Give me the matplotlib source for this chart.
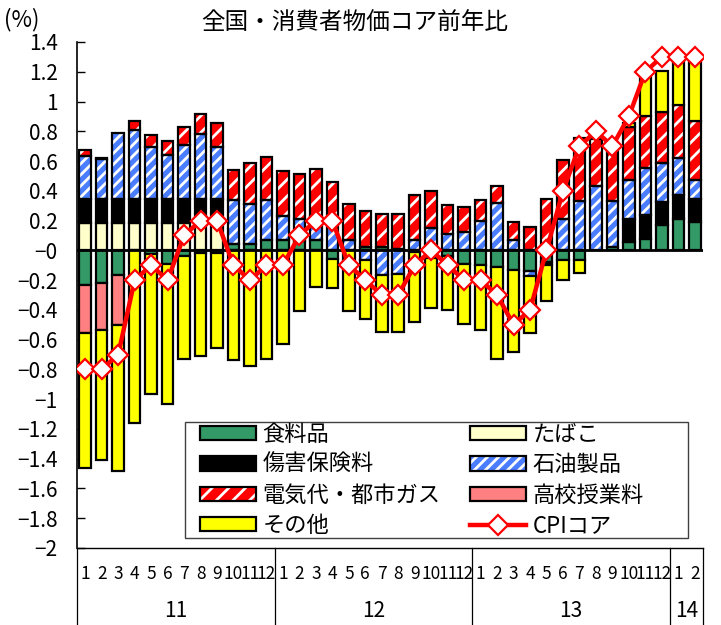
import numpy as np
import matplotlib
matplotlib.use('Agg')
import matplotlib.pyplot as plt
from matplotlib.patches import Patch, Rectangle
from matplotlib.lines import Line2D
from matplotlib.legend_handler import HandlerTuple
import matplotlib.transforms as mtransforms

plt.rcParams['font.family'] = ['Noto Sans CJK JP', 'DejaVu Sans']
plt.rcParams['hatch.linewidth'] = 2.0

# ---------------- data ----------------
months = [str(m) for m in range(1, 13)] * 3 + ['1', '2']
years = ['11', '12', '13', '14']
year_counts = [12, 12, 12, 2]

food = [-0.235, -0.217, -0.168, 0.0, -0.024, -0.09, -0.04, -0.02, -0.02, 0.045, 0.04, 0.067,
        0.067, 0.06, 0.067, -0.06, 0.0, 0.022, 0.022, 0.01, -0.01, -0.05, -0.04, -0.094,
        -0.1, -0.11, -0.134, -0.139, -0.078, -0.067, -0.067, 0.0, 0.02, 0.056, 0.078, 0.168,
        0.213, 0.19]
tobacco = [0.183] * 9 + [0.0] * 29
insurance = [0.163] * 9 + [0.0] * 3 + [0.0] * 12 + \
            [0.0, 0.0, 0.0, 0.0, -0.02, 0.0, 0.0, 0.0, 0.0, 0.157, 0.162, 0.156] + [0.156, 0.157]
oil = [0.288, 0.269, 0.444, 0.464, 0.348, 0.298, 0.359, 0.434, 0.348, 0.291, 0.273, 0.273,
       0.161, 0.15, 0.157, 0.213, 0.067, -0.063, -0.164, -0.161, 0.072, 0.152, 0.112, 0.123,
       0.197, 0.318, 0.067, -0.035, 0.0, 0.213, 0.331, 0.43, 0.31, 0.257, 0.315, 0.264,
       0.253, 0.123]
elec = [0.042, 0.005, 0.0, 0.058, 0.078, 0.09, 0.127, 0.133, 0.163, 0.201, 0.273, 0.286,
        0.304, 0.30, 0.324, 0.246, 0.246, 0.242, 0.224, 0.236, 0.302, 0.246, 0.194, 0.168,
        0.143, 0.114, 0.123, 0.157, 0.347, 0.396, 0.425, 0.319, 0.354, 0.358, 0.345, 0.34,
        0.358, 0.402]
tuition = [-0.322, -0.317, -0.335] + [0.0] * 35
other = [-0.908, -0.876, -0.977, -1.16, -0.939, -0.94, -0.693, -0.69, -0.634, -0.734, -0.78, -0.727,
         -0.631, -0.406, -0.246, -0.19, -0.407, -0.396, -0.384, -0.387, -0.474, -0.34, -0.363, -0.398,
         -0.437, -0.623, -0.551, -0.383, -0.24, -0.134, -0.085, 0.0, 0.0, 0.03, 0.268, 0.275,
         0.29, 0.398]
cpi = [-0.8, -0.8, -0.7, -0.2, -0.1, -0.2, 0.1, 0.2, 0.2, -0.1, -0.2, -0.1,
       -0.1, 0.1, 0.2, 0.2, -0.1, -0.2, -0.3, -0.3, -0.1, 0.0, -0.1, -0.2,
       -0.2, -0.3, -0.5, -0.4, 0.0, 0.4, 0.7, 0.8, 0.7, 0.9, 1.2, 1.3,
       1.3, 1.3]

names = ['食料品', 'たばこ', '傷害保険料', '石油製品', '電気代・都市ガス', '高校授業料', 'その他']
cpi_name = 'CPIコア'

# ---------------- styles ----------------
styles = {
    '食料品': dict(color='#339966', hatch=None),
    'たばこ': dict(color='#FFFFCC', hatch=None),
    '傷害保険料': dict(color='#000000', hatch=None),
    '石油製品': dict(color='#4A7DFF', hatch='///'),
    '電気代・都市ガス': dict(color='#FF0000', hatch='//'),
    '高校授業料': dict(color='#FF8080', hatch=None),
    'その他': dict(color='#FFFF00', hatch=None),
}

W, H = 721, 625
fig = plt.figure(figsize=(W / 100, H / 100), dpi=100)
L, R, T, B = 77, 703, 42, 548
ax = fig.add_axes([L / W, (H - B) / H, (R - L) / W, (B - T) / H])

x = np.arange(len(months))
bw = 0.70
pos = np.zeros(len(x))
neg = np.zeros(len(x))
for name, vals in zip(names, [food, tobacco, insurance, oil, elec, tuition, other]):
    v = np.array(vals, dtype=float)
    bottom = np.where(v >= 0, pos, neg)
    m = v != 0
    st = styles[name]
    if st['hatch']:
        ax.bar(x[m], v[m], bw, bottom=bottom[m], color=st['color'], edgecolor='white',
               hatch=st['hatch'], linewidth=0, zorder=2)
        ax.bar(x[m], v[m], bw, bottom=bottom[m], facecolor='none', edgecolor='black',
               linewidth=1.6, zorder=2.1)
    else:
        ax.bar(x[m], v[m], bw, bottom=bottom[m], color=st['color'], edgecolor='black',
               linewidth=1.6, zorder=2.1)
    pos = pos + np.where(v > 0, v, 0)
    neg = neg + np.where(v < 0, v, 0)

ax.axhline(0, color='black', lw=2.0, zorder=2.5)
ax.plot(x, cpi, color='#FF0000', lw=3.2, marker='D', ms=10, mfc='white', mec='#FF0000',
        mew=1.6, zorder=3)

ax.set_xlim(-0.5, len(x) - 0.5)
ax.set_ylim(-2, 1.4)
yt = np.round(np.arange(-2, 1.41, 0.2), 1)
def fmt(v):
    s = ('%g' % v)
    return s.replace('-', '\u2212')
ax.set_yticks(yt)
ax.set_yticklabels([fmt(v) for v in yt], fontsize=15)
ax.tick_params(axis='y', direction='in', length=6, width=1, pad=14)

ax.set_xticks(x)
ax.set_xticklabels(months, fontsize=12.5)
ax.tick_params(axis='x', length=0, pad=12)

for s in ['top', 'right']:
    ax.spines[s].set_visible(False)
ax.spines['left'].set_linewidth(1.2)
ax.spines['bottom'].set_linewidth(1.0)

# year group labels and separators
blend = mtransforms.blended_transform_factory(ax.transData, ax.transAxes)
ybot = -(H - B) / (B - T)
start = 0
bounds = [-0.5]
for yl, c in zip(years, year_counts):
    center = start + (c - 1) / 2
    ax.text(center, -0.124, yl, transform=blend, ha='center', va='center', fontsize=15)
    start += c
    bounds.append(start - 0.5)
for bx in bounds:
    ax.add_line(Line2D([bx, bx], [0, ybot], transform=blend, color='black', lw=0.9,
                       clip_on=False))

# legend
handles = {}
for name in names:
    st = styles[name]
    if st['hatch']:
        handles[name] = (Patch(facecolor=st['color'], edgecolor='white', hatch=st['hatch'], lw=0),
                         Patch(facecolor='none', edgecolor='black', lw=1.6))
    else:
        handles[name] = Patch(facecolor=st['color'], edgecolor='black', lw=1.6)
handles[cpi_name] = Line2D([], [], color='#FF0000', lw=3.2, marker='D', ms=10, mfc='white',
                           mec='#FF0000', mew=1.6)
order = ['食料品', '傷害保険料', '電気代・都市ガス', 'その他', 'たばこ', '石油製品', '高校授業料', cpi_name]

frame = Rectangle((185 / W, 1 - 538 / H), 503 / W, 116 / H, transform=fig.transFigure,
                  facecolor='white', edgecolor='#404040', lw=1.0, zorder=4, clip_on=False)
ax.add_patch(frame)
leg = ax.legend([handles[n] for n in order], order, ncol=2, loc='upper left',
                bbox_to_anchor=(200 / W, 1 - 423 / H), bbox_transform=fig.transFigure,
                fontsize=16, frameon=False, handlelength=2.5, handleheight=0.6,
                handletextpad=0.3, labelspacing=0.33, borderpad=0, borderaxespad=0,
                columnspacing=1.35, numpoints=1,
                handler_map={tuple: HandlerTuple(ndivide=1, pad=0)})
leg.set_zorder(5)

fig.text(355 / W, 1 - 22 / H, '全国・消費者物価コア前年比', ha='center', va='center', fontsize=17)
fig.text(4 / W, 1 - 20 / H, '(%)', ha='left', va='center', fontsize=16)

fig.savefig('out.png', dpi=100)
